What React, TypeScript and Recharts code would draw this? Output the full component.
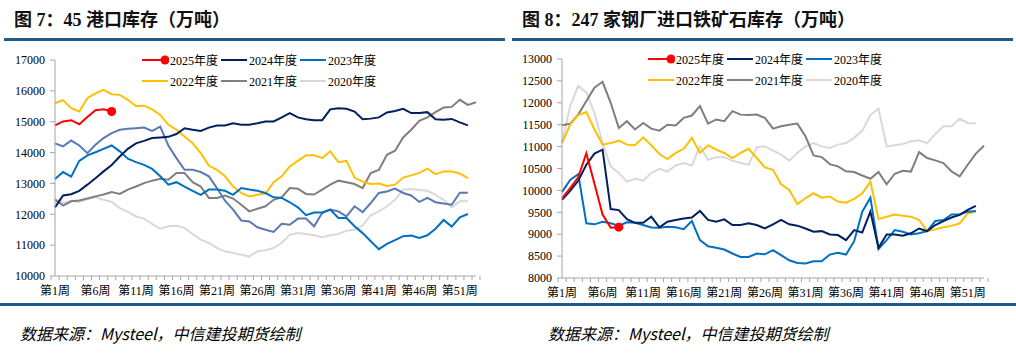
import React from 'react';
import { LineChart, Line, XAxis, YAxis, Legend } from 'recharts';

// 周次
const weeks = Array.from({ length: 53 }, (_, i) => `第${i + 1}周`);

// 图7：45港口库存（万吨）
const port2025 = [14880, 15010, 15050, 14920, 15150, 15370, 15400, 15330];
const port2024 = [12225, 12610, 12650, 12760, 12960, 13170, 13390, 13600, 13870, 14120, 14300, 14380, 14470, 14490, 14510, 14600, 14790, 14740, 14700, 14810, 14880, 14880, 14950, 14900, 14900, 14950, 15010, 15010, 15140, 15280, 15140, 15080, 15050, 15050, 15400, 15440, 15420, 15330, 15080, 15100, 15140, 15300, 15350, 15420, 15280, 15280, 15310, 15080, 15060, 15090, 14980, 14880];
const port2023 = [13140, 13370, 13220, 13730, 13910, 14010, 14120, 14230, 14040, 13800, 13690, 13600, 13470, 13230, 12960, 13040, 12900, 12760, 12630, 12800, 12800, 12760, 12630, 12850, 12800, 12760, 12690, 12550, 12530, 12390, 12225, 11970, 12060, 12060, 12150, 11880, 11880, 11610, 11390, 11125, 10870, 11040, 11160, 11290, 11310, 11230, 11320, 11530, 11815, 11600, 11900, 12010];
const port2022 = [15600, 15700, 15440, 15330, 15760, 15920, 16030, 15890, 15870, 15710, 15510, 15520, 15400, 15220, 14900, 14740, 14520, 14300, 13980, 13580, 13440, 13230, 12900, 12690, 12580, 12630, 12670, 13040, 13230, 13550, 13730, 13910, 13910, 13820, 14040, 13690, 13730, 13190, 13060, 12980, 13000, 12920, 12960, 13190, 13260, 13340, 13480, 13300, 13390, 13390, 13320, 13170];
const port2021 = [12470, 12280, 12420, 12450, 12510, 12580, 12640, 12720, 12660, 12800, 12900, 13010, 13090, 13150, 13120, 13335, 13335, 13040, 12900, 12530, 12530, 12610, 12510, 12310, 12095, 12180, 12260, 12470, 12550, 12850, 12830, 12660, 12640, 12800, 12960, 13090, 13040, 12980, 12850, 13335, 13440, 13930, 14060, 14490, 14740, 15030, 15140, 15310, 15460, 15480, 15710, 15545, 15630];
const port2020 = [12510, 12360, 12440, 12400, 12490, 12550, 12470, 12400, 12200, 12075, 11930, 11860, 11690, 11535, 11610, 11630, 11560, 11360, 11180, 11070, 10910, 10800, 10750, 10690, 10630, 10800, 10830, 10910, 11070, 11340, 11395, 11360, 11320, 11255, 11320, 11360, 11470, 11500, 11640, 11965, 12095, 12260, 12470, 12800, 12820, 12785, 12760, 12630, 12470, 12225, 12420, 12420];
// 图中未列入图例的一条线
const portOther = [14300, 14200, 14390, 14230, 13980, 14250, 14470, 14630, 14740, 14770, 14790, 14810, 14700, 14840, 14230, 13820, 13440, 13440, 13370, 13230, 12850, 12440, 12150, 11800, 11770, 11580, 11500, 11430, 11690, 11660, 11860, 11860, 11610, 12040, 12150, 12095, 11930, 12260, 12070, 12365, 12690, 12740, 12830, 12690, 12610, 12400, 12530, 12390, 12350, 12310, 12700, 12700];
const portTicks = [10000, 11000, 12000, 13000, 14000, 15000, 16000, 17000];

// 图8：247家钢厂进口铁矿石库存（万吨）
const mill2025 = [9820, 10050, 10300, 10850, 10150, 9450, 9150, 9160];
const mill2024 = [9782, 9990, 10220, 10585, 10840, 10930, 9575, 9550, 9345, 9260, 9260, 9400, 9155, 9285, 9325, 9360, 9380, 9530, 9325, 9285, 9340, 9210, 9210, 9250, 9210, 9130, 9225, 9325, 9225, 9195, 9130, 9055, 9070, 8995, 8980, 8865, 9095, 9040, 9515, 8690, 8995, 8995, 8965, 9020, 9130, 9070, 9210, 9300, 9380, 9440, 9555, 9645];
const mill2023 = [9960, 10240, 10370, 9250, 9225, 9285, 9250, 9195, 9270, 9260, 9210, 9155, 9150, 9170, 9160, 9115, 9300, 8865, 8725, 8690, 8650, 8560, 8480, 8480, 8560, 8540, 8635, 8520, 8405, 8345, 8330, 8380, 8380, 8535, 8575, 8535, 8840, 9515, 9835, 8660, 8865, 9095, 9055, 8995, 9020, 9070, 9300, 9325, 9450, 9450, 9515, 9530];
const mill2022 = [11080, 11500, 11720, 11790, 11390, 11045, 11080, 11135, 11045, 11030, 11210, 11030, 10830, 10715, 10855, 10950, 11200, 10855, 11030, 10930, 10855, 10740, 10855, 10950, 10740, 10525, 10470, 10140, 10010, 9690, 9820, 9935, 9835, 9860, 9745, 9720, 9805, 9935, 10200, 9345, 9400, 9450, 9420, 9400, 9325, 9070, 9110, 9160, 9190, 9245, 9475, 9515];
const mill2021 = [11490, 11520, 11730, 12040, 12345, 12480, 12000, 11425, 11580, 11390, 11540, 11410, 11365, 11500, 11480, 11655, 11710, 11925, 11525, 11620, 11580, 11810, 11730, 11720, 11730, 11655, 11410, 11465, 11500, 11525, 11235, 10800, 10760, 10600, 10550, 10435, 10420, 10340, 10265, 10420, 10140, 10380, 10450, 10430, 10875, 10740, 10685, 10625, 10435, 10320, 10585, 10840, 11020];
const mill2020 = [11080, 11925, 12385, 12230, 11770, 11080, 10550, 10395, 10200, 10265, 10220, 10395, 10495, 10430, 10570, 10625, 10570, 11005, 10700, 10755, 10755, 10680, 10625, 10585, 10985, 11005, 10910, 10815, 10680, 10855, 11005, 11080, 11005, 10970, 11045, 11080, 11200, 11365, 11720, 11870, 11005, 11030, 11060, 11120, 11145, 11080, 11290, 11465, 11465, 11635, 11540, 11525];
const millTicks = [8000, 8500, 9000, 9500, 10000, 10500, 11000, 11500, 12000, 12500, 13000];

const FONT = "'Liberation Serif', 'Noto Sans CJK SC', serif";
const CJK = "'Noto Sans CJK SC', sans-serif";
const AXIS = '#A6A6A6';
const RULE = '#1F5A8A';

type Series = { key: string; name?: string; color: string; values: number[]; marker?: boolean };

const legendOrder = ['y2025', 'y2024', 'y2023', 'y2022', 'y2021', 'y2020'];

function buildRows(series: Series[]) {
  return weeks.map((w, i) => {
    const row: any = { week: w };
    series.forEach((s) => {
      row[s.key] = s.values[i] ?? null;
    });
    return row;
  });
}

const WeekTick = (props: any) => {
  const { x, y, payload, index, bw } = props;
  return (
    <g>
      <line x1={x - bw / 2} x2={x - bw / 2} y1={y} y2={y + 4} stroke={AXIS} />
      {index === weeks.length - 1 && <line x1={x + bw / 2} x2={x + bw / 2} y1={y} y2={y + 4} stroke={AXIS} />}
      {index % 5 === 0 && (
        <text x={x} y={y + 19} textAnchor="middle" fontSize={12} fontFamily={FONT} fill="#000">
          {payload.value}
        </text>
      )}
    </g>
  );
};

const LegendBox = ({ items }: { items: Series[] }) => (
  <div style={{ display: 'grid', gridTemplateColumns: 'repeat(3, 79px)', rowGap: 5 }}>
    {items.map((s) => (
      <div key={s.key} style={{ display: 'flex', alignItems: 'center', height: 16 }}>
        <svg width={27} height={10} style={{ flex: 'none' }}>
          <line x1={0} y1={5} x2={26} y2={5} stroke={s.color} strokeWidth={2} />
          {s.marker && <circle cx={23} cy={5} r={4.5} fill={s.color} />}
        </svg>
        <span style={{ fontSize: 12, fontFamily: FONT, color: '#000', marginLeft: 1, whiteSpace: 'nowrap' }}>{s.name}</span>
      </div>
    ))}
  </div>
);

function Panel(props: {
  left: number;
  title: string;
  series: Series[];
  domain: [number, number];
  ticks: number[];
  margin: { top: number; right: number; bottom: number; left: number };
  legendPos: { left: number; top: number };
  sourceLeft: number;
}) {
  const { left, title, series, domain, ticks, margin, legendPos, sourceLeft } = props;
  const W = 508;
  const H = 353;
  const yw = 50;
  const bw = (W - margin.left - margin.right - yw) / weeks.length;
  const rows = buildRows(series);
  const legendItems = legendOrder.map((k) => series.find((s) => s.key === k)!).filter(Boolean);

  return (
    <div style={{ position: 'absolute', left, top: 0, width: W, height: H }}>
      <div style={{ position: 'absolute', left: 14, top: 5, fontSize: 18, fontWeight: 'bold', fontFamily: FONT, color: '#111', whiteSpace: 'nowrap' }}>
        {title}
      </div>
      <div style={{ position: 'absolute', left: 4, top: 38, width: 501, height: 3, background: RULE }} />
      <LineChart width={W} height={H} data={rows} margin={margin}>
        <XAxis
          dataKey="week"
          interval={0}
          height={30}
          tickLine={false}
          tickSize={0}
          tickMargin={0}
          axisLine={{ stroke: AXIS }}
          tick={<WeekTick bw={bw} />}
        />
        <YAxis
          type="number"
          domain={domain}
          ticks={ticks}
          width={yw}
          tickSize={5}
          tickMargin={5}
          axisLine={{ stroke: AXIS }}
          tickLine={{ stroke: AXIS }}
          tick={{ fontSize: 12, fontFamily: FONT, fill: '#000' }}
        />
        <Legend
          verticalAlign="middle"
          content={() => <LegendBox items={legendItems} />}
          wrapperStyle={{ left: legendPos.left, top: legendPos.top, width: 260 }}
        />
        {series.map((s) => (
          <Line
            key={s.key}
            dataKey={s.key}
            name={s.name}
            stroke={s.color}
            strokeWidth={2}
            type="linear"
            isAnimationActive={false}
            connectNulls={false}
            dot={
              s.marker
                ? (p: any) =>
                    p.index === s.values.length - 1 ? (
                      <circle key={`d-${p.index}`} cx={p.cx} cy={p.cy} r={4.5} fill={s.color} />
                    ) : (
                      <g key={`d-${p.index}`} />
                    )
                : false
            }
            activeDot={false}
          />
        ))}
      </LineChart>
      <div style={{ position: 'absolute', left: 0, top: 303, width: W, height: 3, background: RULE }} />
      <div style={{ position: 'absolute', left: sourceLeft, top: 321, fontSize: 16, fontStyle: 'italic', fontFamily: CJK, color: '#000', whiteSpace: 'nowrap' }}>
        数据来源：Mysteel，中信建投期货绘制
      </div>
    </div>
  );
}

const portSeries: Series[] = [
  { key: 'y2020', name: '2020年度', color: '#D9D9D9', values: port2020 },
  { key: 'y2021', name: '2021年度', color: '#7F7F7F', values: port2021 },
  { key: 'y2022', name: '2022年度', color: '#FFC000', values: port2022 },
  { key: 'other', color: '#5A7AB4', values: portOther },
  { key: 'y2023', name: '2023年度', color: '#0070C0', values: port2023 },
  { key: 'y2024', name: '2024年度', color: '#002060', values: port2024 },
  { key: 'y2025', name: '2025年度', color: '#FF0000', values: port2025, marker: true },
];

const millSeries: Series[] = [
  { key: 'y2020', name: '2020年度', color: '#D9D9D9', values: mill2020 },
  { key: 'y2021', name: '2021年度', color: '#7F7F7F', values: mill2021 },
  { key: 'y2022', name: '2022年度', color: '#FFC000', values: mill2022 },
  { key: 'y2023', name: '2023年度', color: '#0070C0', values: mill2023 },
  { key: 'y2024', name: '2024年度', color: '#002060', values: mill2024 },
  { key: 'y2025', name: '2025年度', color: '#FF0000', values: mill2025, marker: true },
];

export default function App() {
  return (
    <div style={{ position: 'absolute', left: 0, top: 0, width: 1016, height: 353, background: '#fff', overflow: 'hidden' }}>
      <Panel
        left={0}
        title="图 7：45 港口库存（万吨）"
        series={portSeries}
        domain={[10000, 17000]}
        ticks={portTicks}
        margin={{ top: 60, right: 32, bottom: 47, left: 5 }}
        legendPos={{ left: 142, top: 52 }}
        sourceLeft={20}
      />
      <Panel
        left={508}
        title="图 8：247 家钢厂进口铁矿石库存（万吨）"
        series={millSeries}
        domain={[8000, 13000]}
        ticks={millTicks}
        margin={{ top: 59, right: 32, bottom: 45, left: 4 }}
        legendPos={{ left: 140, top: 51 }}
        sourceLeft={40}
      />
    </div>
  );
}
